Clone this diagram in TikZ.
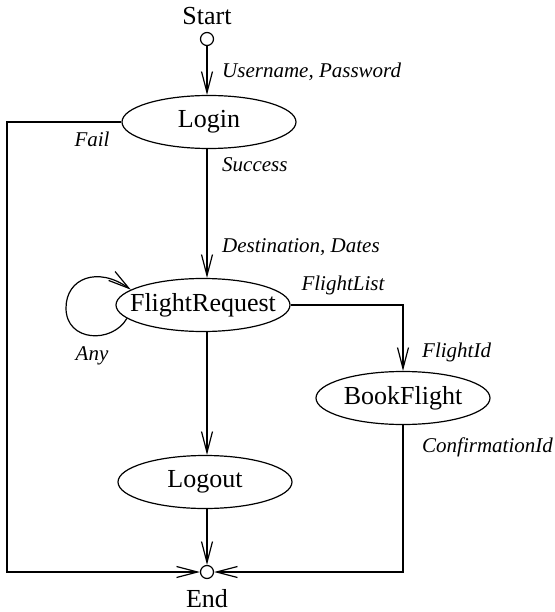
\documentclass[tikz,border=0pt]{standalone}
\usepackage{fontspec}
\setmainfont{Liberation Serif}
\usetikzlibrary{shapes.geometric,arrows.meta}
\tikzset{
  st/.style={draw, line width=1.2pt, ellipse, inner sep=0pt, minimum width=174pt, minimum height=53pt,
    font=\fontsize{26}{30}\selectfont},
  term/.style={draw, line width=1.2pt, circle, inner sep=0pt, minimum size=13pt},
  ttl/.style={font=\fontsize{26}{30}\selectfont, inner sep=0pt},
  lbl/.style={font=\fontsize{21}{24}\selectfont\itshape, inner sep=0pt},
  flow/.style={line width=1.2pt, -{Straight Barb[length=21pt,width=11pt,line width=1.2pt]}},
  plain/.style={line width=1.2pt}
}
\begin{document}
\begin{tikzpicture}[x=1pt,y=-1pt]
\useasboundingbox (0,0) rectangle (554,612);
% terminals
\node[ttl] (starttxt) at (207,16) {Start};
\node[term] (startc) at (207,39) {};
\node[term] (endc) at (207,572) {};
\node[ttl] (endtxt) at (207,599) {End};
% states
\node[st] (login) at (209,122) {\makebox[0pt]{Login}};
\node[st] (fr) at (203,305) {\makebox[0pt]{FlightRequest}};
\node[st] (bf) at (403,398) {\makebox[0pt]{BookFlight}};
\node[st] (lo) at (205,482) {\makebox[0pt]{Logout}};
% helper coordinates
\coordinate (leftx) at (7,0);
% connectors
\draw[flow] (startc) -- (startc |- login.north);
\draw[flow] (login.south -| startc) -- (startc |- fr.north);
\draw[flow] (fr.south -| startc) -- (startc |- lo.north);
\draw[flow] (lo.south -| startc) -- (endc);
\draw[flow] (login.west) -- (login.west -| leftx) |- (endc.west);
\draw[flow] (fr.east) -| (bf.north);
\draw[flow] (bf.south) |- (endc.east);
% self loop
\draw[flow] (fr.190) .. controls (112,344) and (66,342) .. (66,308)
  .. controls (66,278) and (98,266) .. (fr.168);
% labels
\node[lbl, anchor=west] (l1) at (222,72) {Username, Password};
\node[lbl] (l2) at (92,139) {Fail};
\node[lbl, anchor=west] (l3) at (222,165) {Success};
\node[lbl, anchor=west] (l4) at (222,247) {Destination, Dates};
\node[lbl] (l5) at (343,285) {FlightList};
\node[lbl, anchor=west] (l6) at (422,352) {FlightId};
\node[lbl, anchor=west] (l7) at (422,447) {ConfirmationId};
\node[lbl] (l8) at (92,356) {Any};
\end{tikzpicture}
\end{document}
